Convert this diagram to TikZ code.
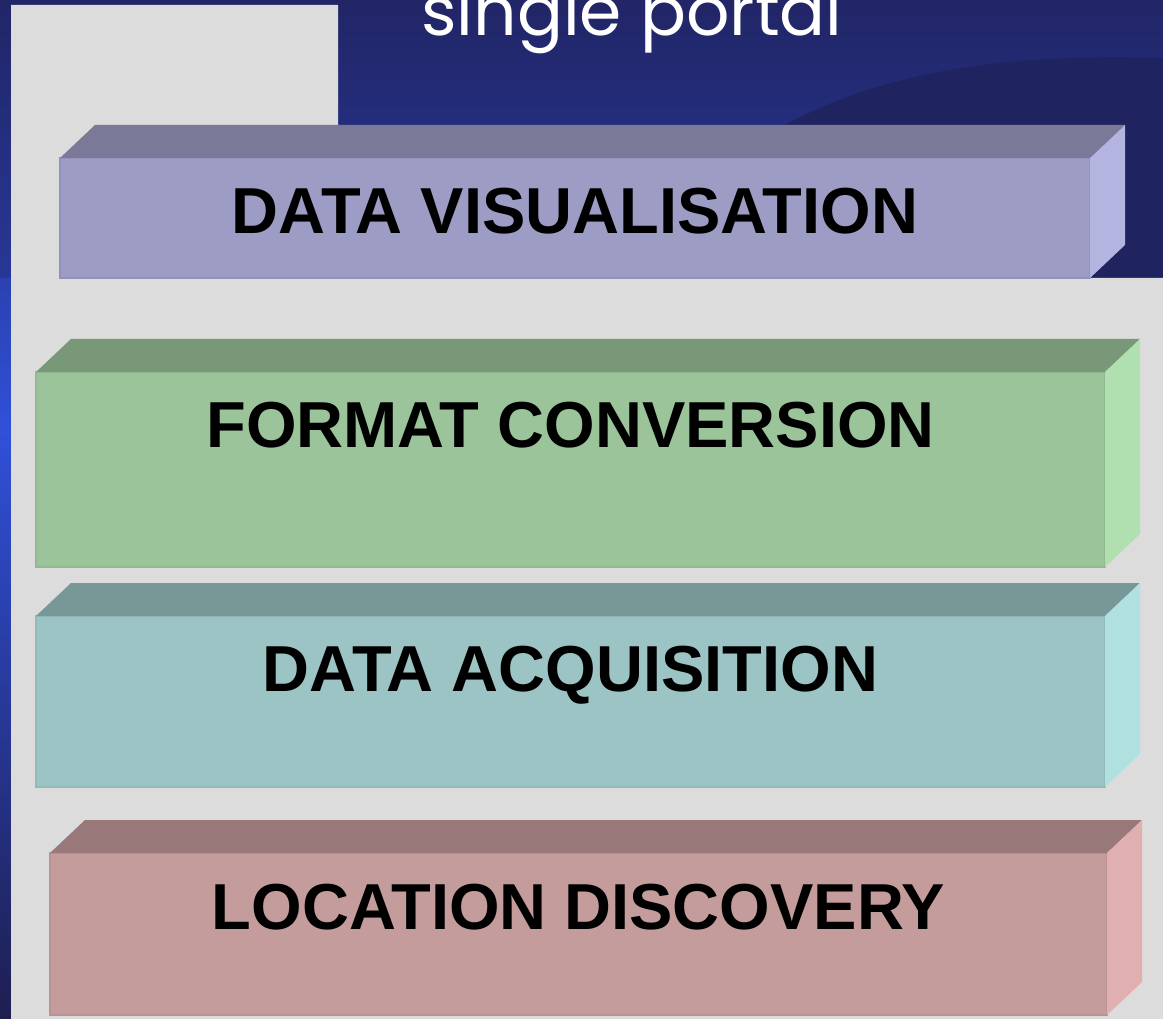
\documentclass[tikz,border=0pt]{standalone}
\usepackage{fontspec}
\setmainfont{Liberation Sans}
\newfontfamily\portalfont{Poppins}
\definecolor{bgtop}{HTML}{222667}
\definecolor{bgmid}{HTML}{2F50D8}
\definecolor{bgbot}{HTML}{1E1E50}
\definecolor{swoosh}{HTML}{1F2360}
\definecolor{panel}{HTML}{DCDCDC}
\definecolor{pFront}{HTML}{9C9CC4}\definecolor{pTop}{HTML}{7A7A98}\definecolor{pSide}{HTML}{B4B4E0}\definecolor{pLine}{HTML}{9292BA}
\definecolor{gFront}{HTML}{9BC49B}\definecolor{gTop}{HTML}{789878}\definecolor{gSide}{HTML}{B0E0B0}\definecolor{gLine}{HTML}{92BA92}
\definecolor{tFront}{HTML}{9CC4C4}\definecolor{tTop}{HTML}{789898}\definecolor{tSide}{HTML}{B0E0E0}\definecolor{tLine}{HTML}{92BABA}
\definecolor{rFront}{HTML}{C49C9C}\definecolor{rTop}{HTML}{987878}\definecolor{rSide}{HTML}{E0B0B0}\definecolor{rLine}{HTML}{BA9292}
\tikzset{
  front/.style={draw, line width=1.2pt, inner sep=0pt, outer sep=0pt, rectangle, anchor=north west},
  label/.style={font=\bfseries\fontsize{65}{70}\selectfont, text=black, anchor=base, inner sep=0pt},
}
% \blockbox{name}{x0}{y0}{w}{h}{prefix}{label}{baseline}
\newcommand{\blockbox}[8]{%
  \node[front, fill=#6Front, draw=#6Line, minimum width=#4pt, minimum height=#5pt] (#1) at (#2,#3) {};
  \fill[#6Top] (#1.north west) -- ++(35,-33) -- ([shift={(35,-33)}]#1.north east) -- (#1.north east) -- cycle;
  \fill[#6Side] (#1.north east) -- ++(35,-33) -- ([shift={(35,-33)}]#1.south east) -- (#1.south east) -- cycle;
  \node[label] (#1text) at ([yshift=-#8pt]#1.north) {#7};
}
\begin{document}
\begin{tikzpicture}[x=1pt,y=-1pt]
\useasboundingbox (0,0) rectangle (1163,1019);
% background
\shade[top color=bgtop, bottom color=bgmid] (0,0) rectangle (1163,430);
\shade[top color=bgmid, bottom color=bgbot] (0,430) rectangle (1163,1019);
\fill[bgtop, opacity=0.35] (0,0) rectangle (1163,278);
\fill[swoosh] (780,128) .. controls (865,80) and (980,52) .. (1163,58) -- (1163,278) -- (780,278) -- cycle;
% title text
\node[text=white, anchor=base, inner sep=0pt, font=\portalfont\fontsize{68}{74}\selectfont] (title) at (632,36) {single portal};
% gray panel
\fill[panel] (11,5) -- (338,5) -- (338,278) -- (1163,278) -- (1163,1019) -- (11,1019) -- cycle;
% blocks
\blockbox{vis}{60}{158}{1030}{120}{p}{DATA VISUALISATION}{76}
\blockbox{fmt}{36}{372}{1069}{195}{g}{FORMAT CONVERSION}{75}
\blockbox{acq}{36}{616}{1069}{171}{t}{DATA ACQUISITION}{75}
\blockbox{loc}{50}{853}{1057}{162}{r}{LOCATION DISCOVERY}{76}
\end{tikzpicture}
\end{document}
